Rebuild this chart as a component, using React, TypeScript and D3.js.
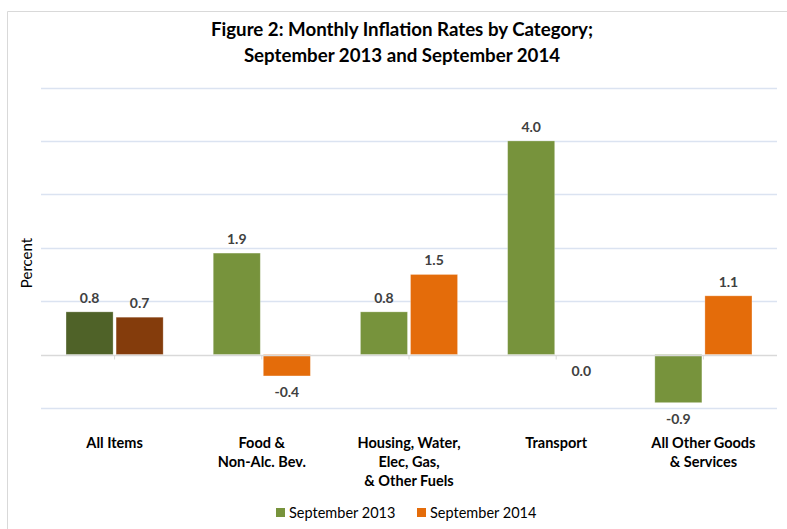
import * as React from 'react';
import * as d3 from 'd3';

const CATEGORIES = [
    ['All Items'],
    ['Food &', 'Non-Alc. Bev.'],
    ['Housing, Water,', 'Elec, Gas,', '& Other Fuels'],
    ['Transport'],
    ['All Other Goods', '& Services']
];
const SERIES = ['September 2013', 'September 2014'];
const SEP_2013 = [0.8, 1.9, 0.8, 4.0, -0.9];
const SEP_2014 = [0.7, -0.4, 1.5, 0.0, 1.1];
const Y_TICKS = [-1, 0, 1, 2, 3, 4, 5];

const COLORS = ['#77933C', '#E46C0A'];
const DARK_COLORS = ['#4F6228', '#843C0C'];

interface Bar {
    cat: number;
    series: number;
    value: number;
}

const FONT = 'Lato, "Open Sans", sans-serif';

const App: React.FC = () => {
    const svgRef = React.useRef<SVGSVGElement>(null);

    React.useEffect(() => {
        const svg = d3.select(svgRef.current);
        svg.selectAll('*').remove();

        /** ******** Frame ********* */
        svg.append('path')
            .attr('d', 'M7.5,540 V11.5 H800')
            .attr('fill', 'none')
            .attr('stroke', '#d9d9d9');

        /** ******** Title ********* */
        const title = svg.append('text')
            .attr('text-anchor', 'middle')
            .attr('font-family', FONT)
            .attr('font-weight', 'bold')
            .attr('font-size', 18.7)
            .attr('fill', '#000');
        title.append('tspan').attr('x', 402).attr('y', 36).text('Figure 2: Monthly Inflation Rates by Category;');
        title.append('tspan').attr('x', 402).attr('y', 62).text('September 2013 and September 2014');

        /** ******** Scales ********* */
        const catIdx = CATEGORIES.map((_, i) => String(i));
        const x0 = d3.scaleBand().domain(catIdx).range([41, 777]).padding(0);
        const x1 = d3.scaleBand().domain(SERIES).range([0, x0.bandwidth()]).paddingInner(0.06).paddingOuter(0.5);
        const y = d3.scaleLinear().domain([-1, 5]).range([408, 87.5]);

        /** ******** Grid ********* */
        svg.append('g')
            .selectAll('line')
            .data(Y_TICKS.filter(t => t !== 0))
            .enter()
            .append('line')
            .attr('x1', 41)
            .attr('x2', 777)
            .attr('y1', d => Math.round(y(d)) + 0.5)
            .attr('y2', d => Math.round(y(d)) + 0.5)
            .attr('stroke', '#dbe3f1')
            .attr('stroke-width', 1.3);

        /** ******** Bars ********* */
        const bars: Bar[] = [];
        CATEGORIES.forEach((_, i) => {
            bars.push({ cat: i, series: 0, value: SEP_2013[i] });
            bars.push({ cat: i, series: 1, value: SEP_2014[i] });
        });

        svg.append('g')
            .selectAll('rect')
            .data(bars)
            .enter()
            .append('rect')
            .attr('x', d => x0(String(d.cat))! + x1(SERIES[d.series])!)
            .attr('width', x1.bandwidth())
            .attr('y', d => y(Math.max(0, d.value)))
            .attr('height', d => Math.abs(y(d.value) - y(0)))
            .attr('fill', d => (d.cat === 0 ? DARK_COLORS : COLORS)[d.series])
            .attr('stroke', '#ffffff')
            .attr('stroke-opacity', 0.35)
            .attr('stroke-width', 0.8);

        /** ******** Zero axis ********* */
        const zeroY = Math.round(y(0)) + 0.5;
        svg.append('line')
            .attr('x1', 41)
            .attr('x2', 777)
            .attr('y1', zeroY)
            .attr('y2', zeroY)
            .attr('stroke', '#d9d9d9')
            .attr('stroke-width', 1.3);
        svg.append('g')
            .selectAll('line')
            .data(catIdx)
            .enter()
            .append('line')
            .attr('x1', d => x0(d)! + x0.bandwidth() / 2)
            .attr('x2', d => x0(d)! + x0.bandwidth() / 2)
            .attr('y1', zeroY)
            .attr('y2', zeroY + 4)
            .attr('stroke', '#d9d9d9');

        /** ******** Value labels ********* */
        svg.append('g')
            .selectAll('text')
            .data(bars)
            .enter()
            .append('text')
            .attr('x', d => x0(String(d.cat))! + x1(SERIES[d.series])! + x1.bandwidth() / 2)
            .attr('y', d => (d.value > 0 ? y(d.value) - 9 : y(d.value) + 21))
            .attr('text-anchor', 'middle')
            .attr('font-family', FONT)
            .attr('font-weight', 'bold')
            .attr('font-size', 14)
            .attr('fill', '#404040')
            .text(d => d.value.toFixed(1));

        /** ******** Category labels ********* */
        const catLabels = svg.append('g')
            .selectAll('text')
            .data(CATEGORIES)
            .enter()
            .append('text')
            .attr('text-anchor', 'middle')
            .attr('font-family', FONT)
            .attr('font-weight', 'bold')
            .attr('font-size', 14.5)
            .attr('fill', '#000');
        catLabels.each(function (lines, i) {
            const cx = x0(String(i))! + x0.bandwidth() / 2;
            lines.forEach((line, j) => {
                d3.select(this)
                    .append('tspan')
                    .attr('x', cx)
                    .attr('y', 448 + j * 19)
                    .text(line);
            });
        });

        /** ******** Y label ********* */
        svg.append('text')
            .attr('transform', 'translate(32,263) rotate(-90)')
            .attr('text-anchor', 'middle')
            .attr('font-family', FONT)
            .attr('font-size', 15)
            .attr('fill', '#000')
            .text('Percent');

        /** ******** Legend ********* */
        const LEGEND_X = [276, 417];
        const legend = svg.append('g')
            .selectAll('g')
            .data(SERIES)
            .enter()
            .append('g')
            .attr('transform', (_, i) => `translate(${LEGEND_X[i]},508)`);
        legend.append('rect')
            .attr('width', 9)
            .attr('height', 9)
            .attr('fill', (_, i) => COLORS[i]);
        legend.append('text')
            .attr('x', 13)
            .attr('y', 10)
            .attr('font-family', FONT)
            .attr('font-size', 14.5)
            .attr('fill', '#000')
            .text(d => d);
    });

    return (
        <svg
            ref={svgRef}
            width={787}
            height={529}
            style={{ position: 'absolute', left: 0, top: 0, background: '#fff' }}
        />
    );
};

export default App;
